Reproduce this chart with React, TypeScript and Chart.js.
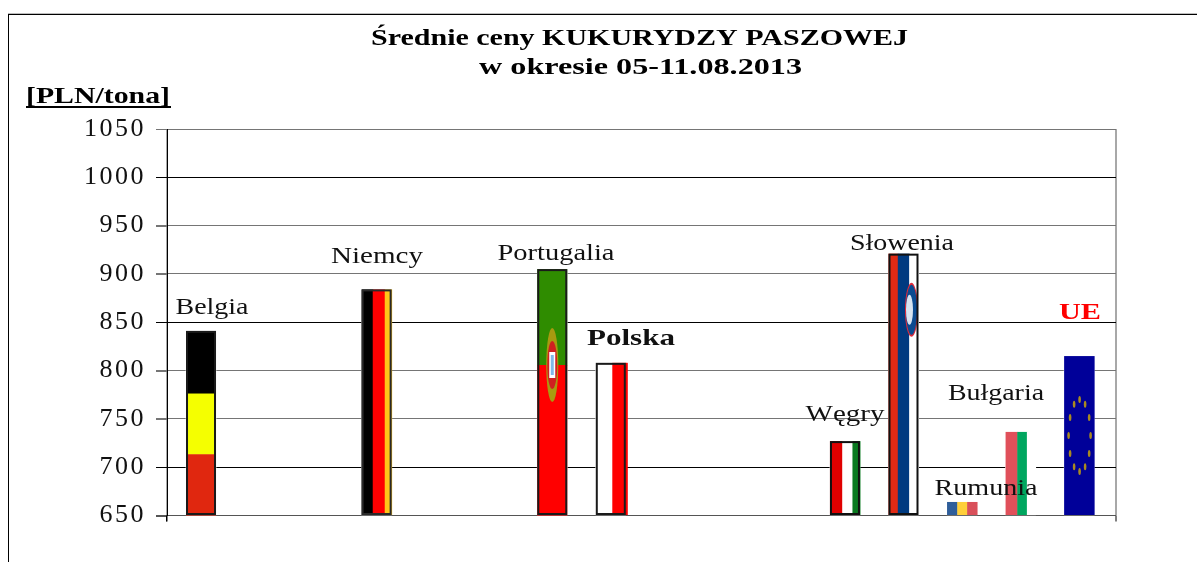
import React, { useEffect, useRef } from "react";
import { Chart, registerables } from "chart.js";

Chart.register(...registerables);

// ---------- data ----------
const categories = ["Belgia", "Niemcy", "Portugalia", "Polska", "Węgry", "Słowenia", "Rumunia", "Bułgaria", "UE"];
const slots = [0, 3, 6, 7, 11, 12, 13, 14, 15];
const prices = [841, 884, 905, 808, 727, 921, 664, 736.5, 815];
const yTicks = [650, 700, 750, 800, 850, 900, 950, 1000, 1050];
const titleLines = ["Średnie ceny KUKURYDZY PASZOWEJ", "w okresie 05-11.08.2013"];
const unitLabel = "[PLN/tona]";

// ---------- styles ----------
const SERIF = '"Liberation Serif", "Times New Roman", serif';
const darkGrid = [1000, 850, 700];
const colorFor = (v: number) => (darkGrid.includes(v) ? "#000000" : v === 650 ? "#555555" : "#757575");
const gridColor = (c: any) => colorFor(c.tick?.value);
type Flag = { dir: "h" | "v"; bands: [number, string][]; border?: string };
const flags: Flag[] = [
  { dir: "h", bands: [[0.34, "#000000"], [0.33, "#f5ff00"], [0.33, "#e0270f"]], border: "#1a1a1a" },
  { dir: "v", bands: [[0.37, "#000000"], [0.4, "#ff0000"], [0.23, "#ffc61a"]], border: "#2a2a2a" },
  { dir: "h", bands: [[0.39, "#2f8c00"], [0.61, "#ff0000"]], border: "#1a1a1a" },
  { dir: "v", bands: [[0.55, "#ffffff"], [0.45, "#ff0000"]], border: "#1a1a1a" },
  { dir: "v", bands: [[0.41, "#e00000"], [0.34, "#ffffff"], [0.25, "#0a7a20"]], border: "#111111" },
  { dir: "v", bands: [[0.31, "#e02a14"], [0.38, "#003a80"], [0.31, "#ffffff"]], border: "#111111" },
  { dir: "v", bands: [[0.34, "#2f5e9a"], [0.33, "#ffcf3a"], [0.33, "#d9505a"]] },
  { dir: "v", bands: [[0.39, "#e0505a"], [0.32, "#00a65f"], [0.29, "#ffffff"]] },
  { dir: "v", bands: [[1, "#000099"]] },
];
// label placement on the page
const labelStyle = [
  { cx: 212, y: 314, w: 73, font: `24px ${SERIF}`, color: "#111" },
  { cx: 377, y: 263, w: 92, font: `24px ${SERIF}`, color: "#111" },
  { cx: 556, y: 260, w: 117, font: `24px ${SERIF}`, color: "#111" },
  { cx: 631, y: 345, w: 88, font: `bold 24px ${SERIF}`, color: "#111" },
  { cx: 845, y: 421, w: 79, font: `24px ${SERIF}`, color: "#111" },
  { cx: 902, y: 250, w: 104, font: `24px ${SERIF}`, color: "#111" },
  { cx: 986, y: 495, w: 103, font: `24px ${SERIF}`, color: "#111" },
  { cx: 996, y: 400, w: 96, font: `24px ${SERIF}`, color: "#111" },
  { cx: 1080, y: 319, w: 42, font: `bold 24px ${SERIF}`, color: "#ff0000" },
];

function stretched(ctx: CanvasRenderingContext2D, text: string, cx: number, y: number, w: number, font: string, color: string) {
  ctx.save();
  ctx.letterSpacing = "0px";
  ctx.font = font;
  ctx.fillStyle = color;
  ctx.textAlign = "left";
  ctx.textBaseline = "alphabetic";
  const m = ctx.measureText(text).width;
  ctx.translate(cx - w / 2, y);
  ctx.scale(w / m, 1);
  ctx.fillText(text, 0, 0);
  ctx.restore();
}

const tickSpacing = {
  id: "tickSpacing",
  beforeDraw(chart: any) {
    chart.ctx.letterSpacing = "2.5px";
  },
  beforeDatasetsDraw(chart: any) {
    chart.ctx.letterSpacing = "0px";
  },
};

const flagPainter = {
  id: "flagPainter",
  afterDatasetsDraw(chart: any) {
    const ctx = chart.ctx as CanvasRenderingContext2D;
    const bars = chart.getDatasetMeta(0).data;
    bars.forEach((bar: any, i: number) => {
      const left = bar.x - bar.width / 2;
      const top = bar.y;
      const h = bar.base - bar.y;
      const w = bar.width;
      const flag = flags[i];
      let pos = 0;
      flag.bands.forEach(([frac, col]) => {
        ctx.fillStyle = col;
        if (flag.dir === "h") ctx.fillRect(left, top + pos * h, w, frac * h + 0.5);
        else ctx.fillRect(left + pos * w, top, frac * w + 0.5, h);
        pos += frac;
      });
      const name = categories[i];
      if (name === "Portugalia") {
        const cy = top + 0.39 * h;
        ctx.fillStyle = "#a89a10";
        ctx.beginPath();
        ctx.ellipse(bar.x, cy, 6, 37, 0, 0, Math.PI * 2);
        ctx.fill();
        ctx.fillStyle = "#d02020";
        ctx.beginPath();
        ctx.ellipse(bar.x, cy, 5, 24, 0, 0, Math.PI * 2);
        ctx.fill();
        ctx.fillStyle = "#ffffff";
        ctx.fillRect(bar.x - 3, cy - 13, 6, 26);
        ctx.fillStyle = "#80b8e8";
        ctx.fillRect(bar.x - 1.5, cy - 10, 3, 20);
      }
      if (name === "Polska") {
        ctx.fillStyle = "#ff0000";
        ctx.fillRect(left + w, top, 2, h);
      }
      if (name === "Słowenia") {
        const cy = top + 0.215 * h;
        ctx.save();
        ctx.beginPath();
        ctx.rect(left, top, w, h);
        ctx.clip();
        ctx.fillStyle = "#e02a3a";
        ctx.beginPath();
        ctx.ellipse(bar.x + 8, cy, 6.5, 27, 0, 0, Math.PI * 2);
        ctx.fill();
        ctx.fillStyle = "#0a4a90";
        ctx.beginPath();
        ctx.ellipse(bar.x + 8, cy, 5.5, 25, 0, 0, Math.PI * 2);
        ctx.fill();
        ctx.fillStyle = "#d8e4f0";
        ctx.beginPath();
        ctx.ellipse(bar.x + 6, cy, 3.5, 15, 0, 0, Math.PI * 2);
        ctx.fill();
        ctx.restore();
      }
      if (name === "UE") {
        const cy = top + 0.5 * h;
        ctx.fillStyle = "#a98a20";
        for (let s = 0; s < 12; s++) {
          const a = (s * Math.PI) / 6;
          ctx.beginPath();
          ctx.ellipse(bar.x + 0.5 + 11 * Math.sin(a), cy - 36 * Math.cos(a), 1.3, 3.5, 0, 0, Math.PI * 2);
          ctx.fill();
        }
      }
      if (flag.border) {
        ctx.strokeStyle = flag.border;
        ctx.lineWidth = 2;
        ctx.strokeRect(left + 1, top + 1, w - 2, h - 2);
      }
    });
  },
  afterDraw(chart: any) {
    const ctx = chart.ctx as CanvasRenderingContext2D;
    const area = chart.chartArea;
    const yScale = chart.scales.y;
    ctx.save();
    ctx.letterSpacing = "0px";
    // outer chart frame
    ctx.fillStyle = "#bdbdbd";
    ctx.fillRect(8, 13, 1189, 1);
    ctx.fillStyle = "#000000";
    ctx.fillRect(8, 14, 1189, 1);
    ctx.fillRect(8, 14, 1, 548);
    // axis tick marks to the left of and below the plot
    yTicks.forEach((v) => {
      ctx.fillStyle = colorFor(v);
      ctx.fillRect(area.left - 11, Math.round(yScale.getPixelForValue(v)), 11, 1);
    });
    ctx.fillStyle = "#000000";
    ctx.fillRect(Math.round(area.left) - 1, area.bottom, 1, 6);
    // title and unit
    stretched(ctx, titleLines[0], 639.5, 45, 537, `bold 24px ${SERIF}`, "#000");
    stretched(ctx, titleLines[1], 640.5, 74, 323, `bold 24px ${SERIF}`, "#000");
    stretched(ctx, unitLabel, 98, 103, 144, `bold 24px ${SERIF}`, "#000");
    ctx.fillStyle = "#000";
    ctx.fillRect(26, 106, 145, 2);
    // country labels
    categories.forEach((c, i) => {
      const l = labelStyle[i];
      stretched(ctx, c, l.cx, l.y, l.w, l.font, l.color);
    });
    ctx.restore();
  },
};

export default function App() {
  const ref = useRef<HTMLCanvasElement>(null);
  useEffect(() => {
    const chart = new Chart(ref.current!, {
      type: "bar",
      data: {
        datasets: [
          {
            data: slots.map((s, i) => ({ x: s, y: prices[i] })),
            backgroundColor: "#ffffff",
            borderWidth: 0,
            barThickness: 30,
            base: 650,
          },
        ],
      },
      options: {
        responsive: false,
        animation: false,
        layout: { padding: { left: 0, top: 129, right: 81, bottom: 0 } },
        plugins: { legend: { display: false }, tooltip: { enabled: false }, title: { display: false } },
        scales: {
          x: {
            type: "linear",
            offset: false,
            min: -0.581,
            max: 15.63,
            afterBuildTicks: (s: any) => {
              s.ticks = [{ value: s.min }, { value: s.max }];
            },
            afterFit: (s: any) => {
              s.height = 46.5;
            },
            ticks: { display: false },
            grid: { offset: false, color: "#a8a8a8", lineWidth: 2, tickColor: "#000000", tickWidth: 1, tickLength: 6 },
            border: { display: false },
          },
          y: {
            min: 650,
            max: 1050,
            afterBuildTicks: (s: any) => {
              s.ticks = yTicks.map((value) => ({ value }));
            },
            afterFit: (s: any) => {
              s.width = 167;
            },
            ticks: {
              color: "#111111",
              font: { family: SERIF, size: 26 },
              padding: 10,
              callback: (v: any) => String(v),
            },
            grid: {
              color: gridColor,
              tickColor: gridColor,
              lineWidth: 1,
              tickWidth: 1,
              drawTicks: true,
              tickLength: 11,
            },
            border: { color: "#000000", width: 1 },
          },
        },
      },
      plugins: [tickSpacing, flagPainter],
    } as any);
    return () => chart.destroy();
  }, []);
  return (
    <div style={{ position: "absolute", left: 0, top: 0, width: 1197, height: 562, background: "#ffffff" }}>
      <canvas ref={ref} width={1197} height={562} style={{ display: "block" }} />
    </div>
  );
}
